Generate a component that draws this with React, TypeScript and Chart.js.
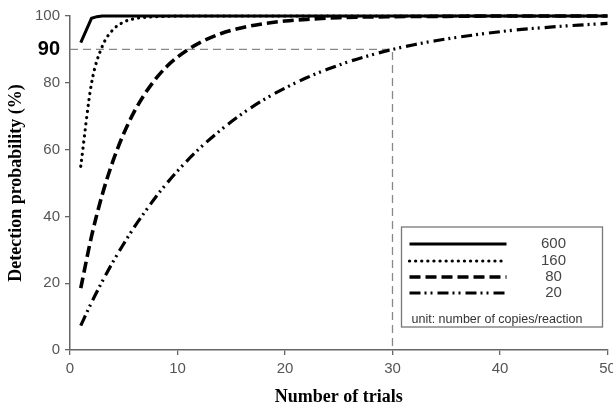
import React, { useEffect, useRef } from "react";
import { Chart, registerables } from "chart.js";

Chart.register(...registerables);

// ---- data ----
const trials600 = [1, 2, 2.5, 3, 50];
const prob600 = [92, 99.3, 99.8, 100, 100];

const trials160 = [1, 2, 3, 4, 5, 6, 7, 8, 9, 10, 12, 15, 20, 30, 50];
const prob160 = [55, 79.8, 90.9, 95.9, 98.2, 99.2, 99.6, 99.8, 99.9, 100, 100, 100, 100, 100, 100];

const trials80 = [1, 2, 3, 4, 5, 6, 7, 8, 9, 10, 11, 12, 14, 16, 18, 20, 22, 25, 30, 35, 40, 50];
const prob80 = [18.5, 34, 46.5, 56.6, 64.8, 71.5, 76.9, 81.3, 84.9, 87.7, 90, 91.9, 94.7, 96.5, 97.7, 98.5, 99, 99.5, 99.8, 99.9, 100, 100];

const trials20 = [1, 2, 3, 4, 5, 6, 7, 8, 9, 10, 12, 14, 16, 18, 20, 22, 24, 26, 28, 30, 32, 34, 36, 38, 40, 42, 44, 46, 48, 50];
const prob20 = [7.3, 14.2, 20.5, 26.4, 31.8, 36.9, 41.5, 45.9, 49.9, 53.6, 60.2, 65.8, 70.7, 74.9, 78.4, 81.5, 84.1, 86.4, 88.3, 90, 91.4, 92.6, 93.6, 94.5, 95.3, 96, 96.5, 97, 97.4, 97.8];

const refTrials = [0, 30, 30];
const refProb = [90, 90, 0];

const seriesLabels = ["600", "160", "80", "20"];
const unitNote = "unit: number of copies/reaction";
const xTitle = "Number of trials";
const yTitle = "Detection probability (%)";
const xTickValues = [0, 10, 20, 30, 40, 50];
const yTickValues = [0, 20, 40, 60, 80, 90, 100];

const pts = (xs: number[], ys: number[]) => xs.map((x, i) => ({ x, y: ys[i] }));

const styles = [
  { width: 3, dash: [] as number[], cap: "butt" as CanvasLineCap },
  { width: 3.2, dash: [0.1, 6], cap: "round" as CanvasLineCap },
  { width: 3.6, dash: [11, 5], cap: "butt" as CanvasLineCap },
  { width: 3.2, dash: [11, 4, 2, 4, 2, 5], cap: "butt" as CanvasLineCap },
];

const legendPlugin = {
  id: "customLegend",
  afterDatasetsDraw(chart: any) {
    const { ctx, chartArea } = chart;
    const right = chartArea.right - 5;
    const bottom = chartArea.bottom - 23;
    const left = right - 201;
    const top = bottom - 100;
    ctx.save();
    ctx.fillStyle = "#fff";
    ctx.fillRect(left, top, right - left, bottom - top);
    ctx.strokeStyle = "#777";
    ctx.lineWidth = 1.3;
    ctx.strokeRect(left, top, right - left, bottom - top);
    const rowsY = [17, 34, 50, 66];
    seriesLabels.forEach((lab, i) => {
      const s = styles[i];
      const y = top + rowsY[i];
      ctx.beginPath();
      ctx.strokeStyle = "#000";
      ctx.lineWidth = s.width;
      ctx.lineCap = s.cap;
      ctx.setLineDash(s.dash);
      ctx.moveTo(left + 8, y);
      ctx.lineTo(left + 105, y);
      ctx.stroke();
      ctx.setLineDash([]);
      ctx.fillStyle = "#444";
      ctx.font = "15px 'Liberation Sans', Arial, sans-serif";
      ctx.textAlign = "center";
      ctx.textBaseline = "middle";
      ctx.fillText(lab, left + 152, y);
    });
    ctx.fillStyle = "#333";
    ctx.font = "12.5px 'Liberation Sans', Arial, sans-serif";
    ctx.textAlign = "left";
    ctx.textBaseline = "middle";
    ctx.fillText(unitNote, left + 10, top + 93);
    ctx.restore();
  },
};

export default function App() {
  const ref = useRef<HTMLCanvasElement | null>(null);
  useEffect(() => {
    if (!ref.current) return;
    const mk = (label: string, xs: number[], ys: number[], i: number, smooth: boolean) => ({
      label,
      data: pts(xs, ys),
      borderColor: "#000",
      borderWidth: styles[i].width,
      borderDash: styles[i].dash,
      borderCapStyle: styles[i].cap,
      pointRadius: 0,
      fill: false,
      tension: smooth ? 0.4 : 0,
      cubicInterpolationMode: smooth ? "monotone" : "default",
      clip: 6,
    });
    const chart = new Chart(ref.current, {
      type: "line",
      data: {
        datasets: [
          mk(seriesLabels[0], trials600, prob600, 0, false),
          mk(seriesLabels[1], trials160, prob160, 1, true),
          mk(seriesLabels[2], trials80, prob80, 2, true),
          mk(seriesLabels[3], trials20, prob20, 3, true),
          {
            label: "ref",
            data: pts(refTrials, refProb),
            borderColor: "#888",
            borderWidth: 1.3,
            borderDash: [8, 5],
            pointRadius: 0,
            fill: false,
            tension: 0,
          },
        ] as any,
      },
      options: {
        animation: false,
        responsive: false,
        maintainAspectRatio: false,
        layout: { padding: { top: 16, right: 5.5, left: 0, bottom: 0 } },
        plugins: { legend: { display: false }, tooltip: { enabled: false } },
        scales: {
          x: {
            type: "linear",
            min: 0,
            max: 50,
            afterBuildTicks: (s: any) => {
              s.ticks = xTickValues.map((v) => ({ value: v }));
            },
            afterFit: (s: any) => {
              s.height = 57;
              s.paddingRight = 0;
              s.paddingLeft = 0;
            },
            grid: { drawOnChartArea: false, drawTicks: true, tickLength: 5, color: "#666", lineWidth: 1.3 },
            border: { display: true, color: "#666", width: 1.5 },
            ticks: {
              autoSkip: false,
              maxRotation: 0,
              padding: 5,
              color: "#555",
              font: { family: "'Liberation Sans', Arial, sans-serif", size: 15 },
            },
            title: {
              display: true,
              text: xTitle,
              color: "#000",
              padding: { top: 0, bottom: -1 },
              font: { family: "'Liberation Serif', 'Times New Roman', serif", size: 18, weight: "bold" },
            },
          },
          y: {
            type: "linear",
            min: 0,
            max: 100,
            afterBuildTicks: (s: any) => {
              s.ticks = yTickValues.map((v) => ({ value: v }));
            },
            afterFit: (s: any) => {
              s.width = 70;
            },
            grid: {
              drawOnChartArea: false,
              drawTicks: true,
              tickLength: 5,
              lineWidth: 1.3,
              color: (c: any) => (c.tick && c.tick.value === 90 ? "rgba(0,0,0,0)" : "#666"),
            },
            border: { display: true, color: "#666", width: 1.5 },
            ticks: {
              autoSkip: false,
              padding: 5,
              color: (c: any) => (c.tick && c.tick.value === 90 ? "#000" : "#555"),
              font: (c: any) =>
                c.tick && c.tick.value === 90
                  ? { family: "'Liberation Sans', Arial, sans-serif", size: 20, weight: "bold" }
                  : { family: "'Liberation Sans', Arial, sans-serif", size: 15 },
            },
            title: {
              display: true,
              text: yTitle,
              color: "#000",
              padding: { top: 6, bottom: 0 },
              font: { family: "'Liberation Serif', 'Times New Roman', serif", size: 18, weight: "bold" },
            },
          },
        },
      } as any,
      plugins: [legendPlugin],
    });
    return () => chart.destroy();
  }, []);
  return (
    <div style={{ position: "fixed", left: 0, top: 0, width: 613, height: 407, background: "#fff" }}>
      <canvas ref={ref} width={613} height={407} style={{ display: "block" }} />
    </div>
  );
}
